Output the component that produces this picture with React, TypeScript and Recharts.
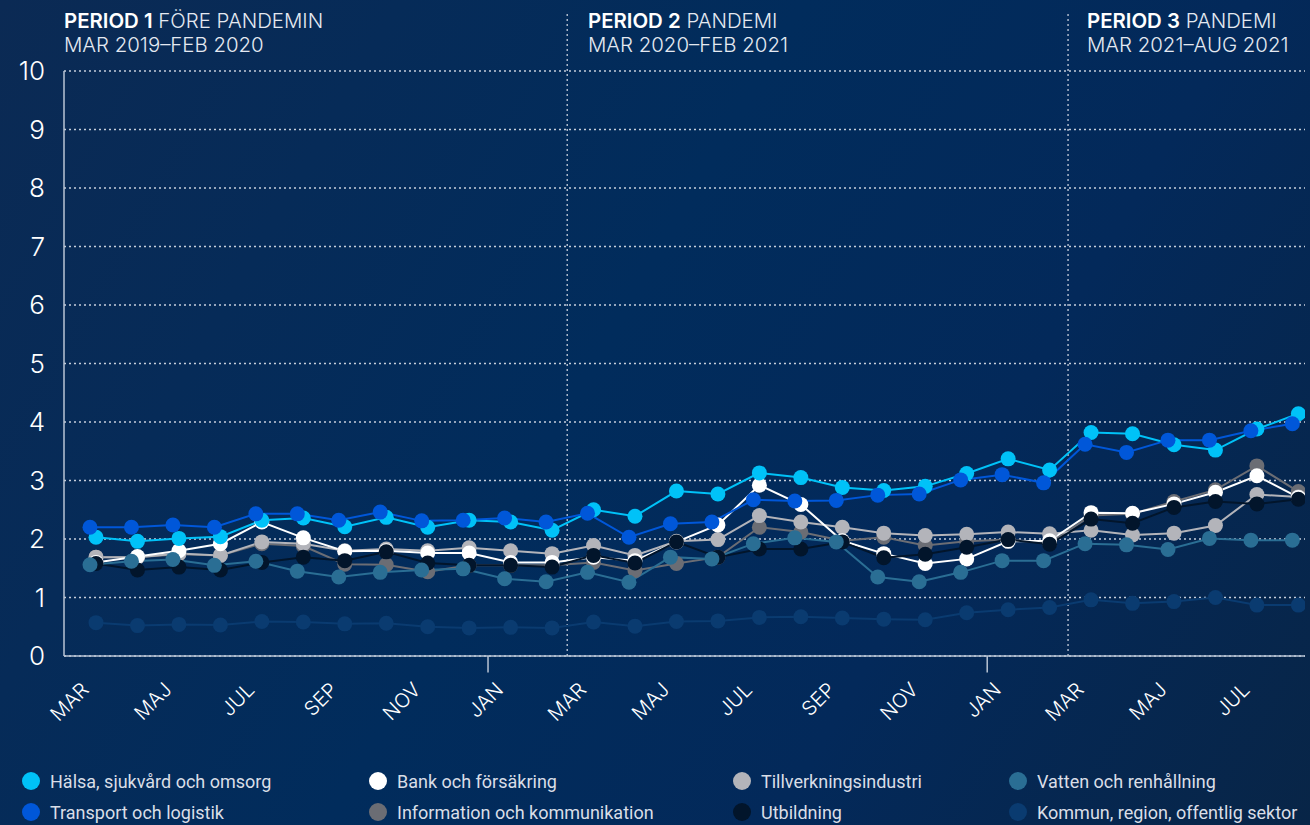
import React from 'react';
import { LineChart, Line, XAxis, YAxis, CartesianGrid, ReferenceLine } from 'recharts';

// Mar 2019 .. Aug 2021, monthly
const MONTH_TICKS = ['MAR', 'MAJ', 'JUL', 'SEP', 'NOV', 'JAN', 'MAR', 'MAJ', 'JUL', 'SEP', 'NOV', 'JAN', 'MAR', 'MAJ', 'JUL'];
const Y_TICKS = [0, 1, 2, 3, 4, 5, 6, 7, 8, 9, 10];

const HALSA = [2.03, 1.96, 2.01, 2.04, 2.32, 2.36, 2.21, 2.37, 2.2, 2.32, 2.29, 2.15, 2.5, 2.39, 2.82, 2.77, 3.13, 3.05, 2.88, 2.83, 2.9, 3.12, 3.37, 3.18, 3.82, 3.8, 3.61, 3.52, 3.88, 4.14];
const TRANSPORT = [2.2, 2.2, 2.24, 2.2, 2.43, 2.43, 2.32, 2.46, 2.31, 2.32, 2.36, 2.29, 2.44, 2.03, 2.26, 2.29, 2.67, 2.65, 2.66, 2.75, 2.77, 3.01, 3.1, 2.96, 3.62, 3.48, 3.69, 3.69, 3.85, 3.97];
const BANK = [1.6, 1.7, 1.8, 1.92, 2.29, 2.02, 1.79, 1.8, 1.76, 1.76, 1.6, 1.6, 1.69, 1.63, 1.95, 2.24, 2.92, 2.59, 1.97, 1.75, 1.58, 1.66, 1.96, 1.97, 2.45, 2.44, 2.6, 2.8, 3.08, 2.71];
const INFORMATION = [1.69, 1.69, 1.74, 1.72, 1.92, 1.88, 1.57, 1.56, 1.44, 1.55, 1.55, 1.55, 1.6, 1.46, 1.58, 1.69, 2.2, 2.12, 1.97, 2.03, 1.89, 1.96, 1.99, 1.93, 2.4, 2.43, 2.64, 2.84, 3.25, 2.81];
const TILLVERKNING = [1.69, 1.69, 1.75, 1.72, 1.95, 1.92, 1.8, 1.83, 1.8, 1.85, 1.8, 1.75, 1.89, 1.72, 1.96, 1.99, 2.4, 2.29, 2.2, 2.1, 2.06, 2.08, 2.12, 2.09, 2.15, 2.07, 2.1, 2.23, 2.76, 2.72];
const UTBILDNING = [1.58, 1.47, 1.52, 1.47, 1.6, 1.69, 1.63, 1.78, 1.59, 1.55, 1.55, 1.52, 1.72, 1.59, 1.95, 1.69, 1.83, 1.83, 1.95, 1.68, 1.74, 1.86, 1.99, 1.91, 2.34, 2.27, 2.54, 2.64, 2.6, 2.68];
const VATTEN = [1.56, 1.62, 1.65, 1.55, 1.62, 1.45, 1.35, 1.43, 1.47, 1.49, 1.32, 1.27, 1.43, 1.26, 1.69, 1.66, 1.92, 2.02, 1.95, 1.35, 1.27, 1.43, 1.63, 1.63, 1.92, 1.9, 1.82, 2.01, 1.98, 1.98];
const KOMMUN = [0.57, 0.52, 0.54, 0.53, 0.59, 0.58, 0.55, 0.56, 0.5, 0.48, 0.49, 0.48, 0.58, 0.51, 0.59, 0.6, 0.66, 0.67, 0.65, 0.63, 0.62, 0.74, 0.79, 0.83, 0.96, 0.9, 0.93, 1.0, 0.87, 0.87];

const PERIODS = [
  { bold: 'PERIOD 1', rest: ' FÖRE PANDEMIN', range: 'MAR 2019–FEB 2020' },
  { bold: 'PERIOD 2', rest: ' PANDEMI', range: 'MAR 2020–FEB 2021' },
  { bold: 'PERIOD 3', rest: ' PANDEMI', range: 'MAR 2021–AUG 2021' },
];

// some series are plotted a little later in the month than others
const LATE = 0.145;

// drawn bottom to top
const SERIES = [
  { name: 'Kommun, region, offentlig sektor', values: KOMMUN, color: '#0a3b70', shift: LATE },
  { name: 'Information och kommunikation', values: INFORMATION, color: '#6b6d74', shift: LATE },
  { name: 'Tillverkningsindustri', values: TILLVERKNING, color: '#b3b4ba', shift: LATE },
  { name: 'Bank och försäkring', values: BANK, color: '#ffffff', shift: LATE },
  { name: 'Utbildning', values: UTBILDNING, color: '#02152b', shift: LATE },
  { name: 'Vatten och renhållning', values: VATTEN, color: '#2a6e94', shift: 0 },
  { name: 'Hälsa, sjukvård och omsorg', values: HALSA, color: '#00c2f8', shift: LATE },
  { name: 'Transport och logistik', values: TRANSPORT, color: '#0057d9', shift: 0 },
];

const LEGEND_ORDER = [
  'Hälsa, sjukvård och omsorg', 'Bank och försäkring', 'Tillverkningsindustri', 'Vatten och renhållning',
  'Transport och logistik', 'Information och kommunikation', 'Utbildning', 'Kommun, region, offentlig sektor',
];

const LINE_FONT = 'Inter, "Open Sans", sans-serif';
const GRID = '#c6cedb';

const MonthTick = (props: any) => {
  const { x, y, payload } = props;
  const label = MONTH_TICKS[Math.round(payload.value / 2)];
  const ax = x;
  const ay = y + 35;
  return (
    <text x={ax} y={ay} transform={`rotate(-45 ${ax} ${ay})`} textAnchor="end" fill="#ffffff"
      fontSize={20} fontFamily={LINE_FONT} fontWeight={300}>
      {label}
    </text>
  );
};

export default function App() {
  const legendX = [22, 369, 733, 1009];
  return (
    <div style={{
      position: 'absolute', left: 0, top: 0, width: 1310, height: 825, overflow: 'hidden',
      background: 'linear-gradient(120deg, #0b2a54 0%, #012c5c 45%, #03295a 70%, #082547 100%)',
    }}>
      {PERIODS.map((p, i) => (
        <div key={i} style={{
          position: 'absolute', top: 9, left: [64, 588, 1087][i], color: '#e4e9f1',
          fontFamily: LINE_FONT, fontSize: 20.4, lineHeight: '24px', fontWeight: 300, whiteSpace: 'nowrap',
        }}>
          <div><span style={{ fontWeight: 600, color: '#ffffff' }}>{p.bold}</span>{p.rest}</div>
          <div>{p.range}</div>
        </div>
      ))}

      <LineChart width={1310} height={825} margin={{ top: 71, right: 5, bottom: 139, left: 0 }}
        style={{ position: 'absolute', left: 0, top: 0 }}>
        <CartesianGrid horizontal vertical={false} stroke={GRID} strokeDasharray="2 3" strokeWidth={1.3} />
        <XAxis type="number" dataKey="x" domain={[-0.627, 29.305]} allowDataOverflow ticks={MONTH_TICKS.map((_, i) => i * 2)}
          interval={0} tick={<MonthTick />} tickLine={false} tickSize={0} tickMargin={0} height={30}
          axisLine={{ stroke: '#b9c4d4', strokeWidth: 1.5 }} />
        <YAxis type="number" domain={[0, 10]} ticks={Y_TICKS} interval={0} width={64} tickLine={false} tickSize={0}
          tickMargin={19} axisLine={{ stroke: '#b9c4d4', strokeWidth: 1.5 }}
          tick={{ fill: '#ffffff', fontSize: 26, fontFamily: LINE_FONT, fontWeight: 300 }} />
        <ReferenceLine segment={[{ x: 11.51, y: 0 }, { x: 11.51, y: 11.02 }]} stroke={GRID} strokeDasharray="2 3" strokeWidth={1.3} ifOverflow="visible" />
        <ReferenceLine segment={[{ x: 23.59, y: 0 }, { x: 23.59, y: 11.02 }]} stroke={GRID} strokeDasharray="2 3" strokeWidth={1.3} ifOverflow="visible" />
        <ReferenceLine segment={[{ x: 9.6, y: 0 }, { x: 9.6, y: -0.28 }]} stroke="#b9c4d4" strokeWidth={1.5} ifOverflow="visible" />
        <ReferenceLine segment={[{ x: 21.64, y: 0 }, { x: 21.64, y: -0.28 }]} stroke="#b9c4d4" strokeWidth={1.5} ifOverflow="visible" />
        {SERIES.map((s) => (
          <Line key={s.name} name={s.name} data={s.values.map((v, i) => ({ x: i + s.shift, y: v }))} dataKey="y"
            type="linear" stroke={s.color} strokeWidth={2} dot={{ r: 7.5, fill: s.color, stroke: 'none' }}
            activeDot={false} isAnimationActive={false} />
        ))}
      </LineChart>

      {LEGEND_ORDER.map((name, i) => {
        const s = SERIES.find((d) => d.name === name)!;
        const col = i % 4;
        const row = Math.floor(i / 4);
        return (
          <div key={name} style={{
            position: 'absolute', left: legendX[col], top: 769 + row * 31, height: 24, display: 'flex', alignItems: 'center',
            fontFamily: 'Roboto, sans-serif', fontSize: 18, color: '#d9dee7', whiteSpace: 'nowrap',
          }}>
            <span style={{ width: 18, height: 18, borderRadius: 9, background: s.color, display: 'inline-block', marginRight: 10 }} />
            {name}
          </div>
        );
      })}
    </div>
  );
}
